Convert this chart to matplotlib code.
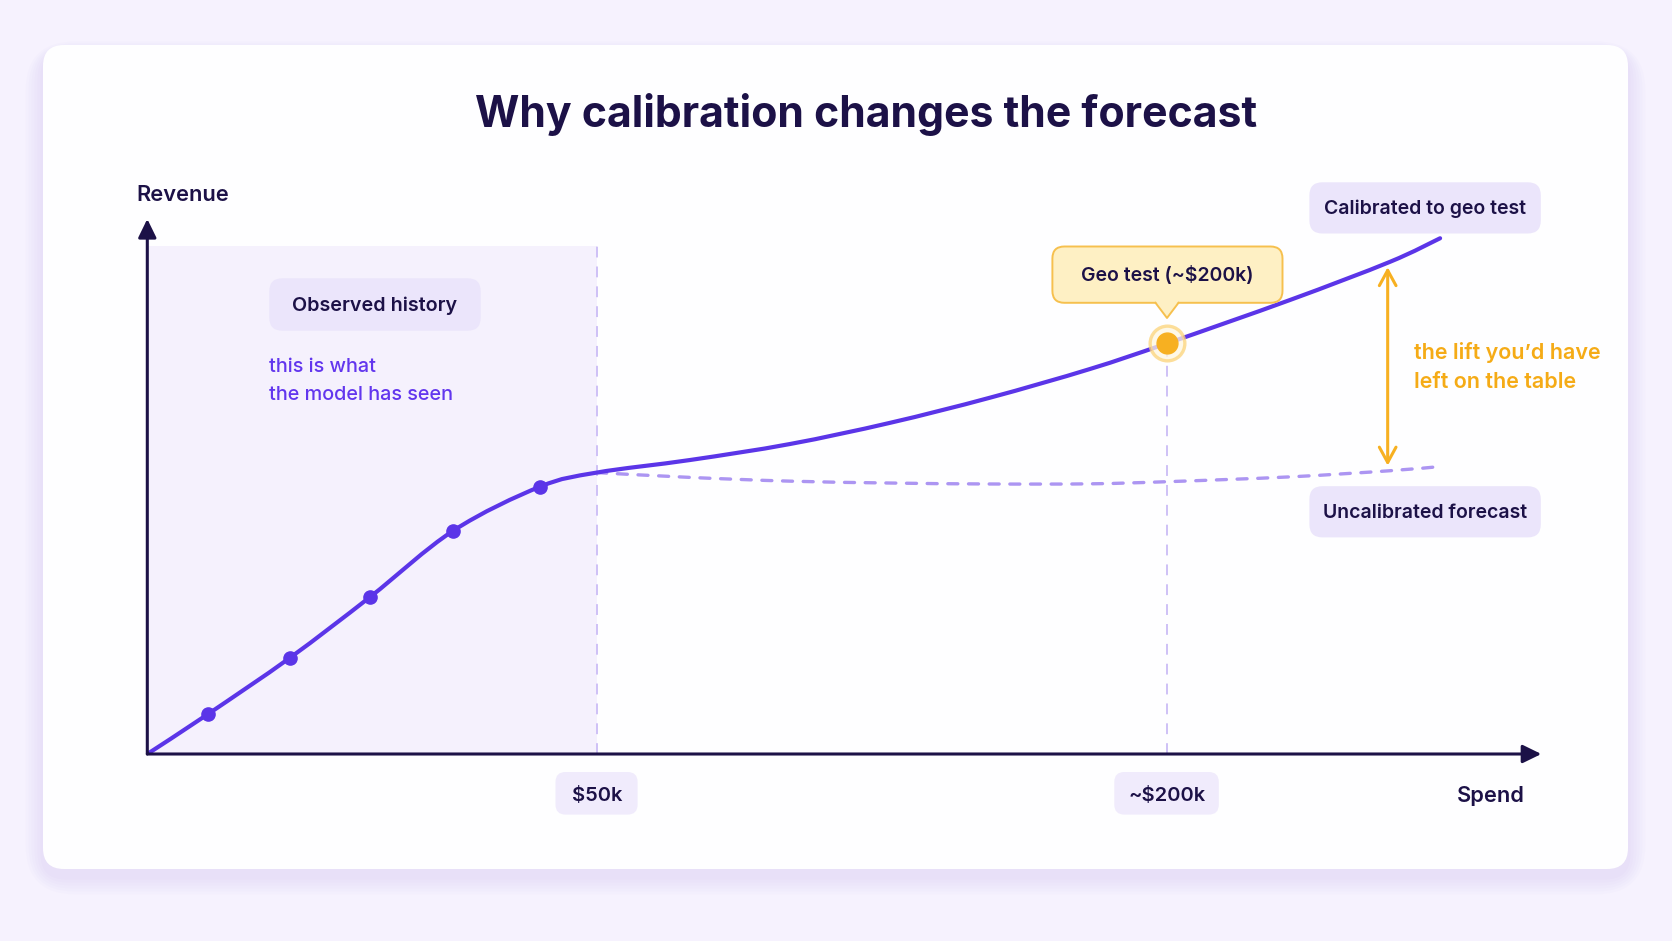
import matplotlib
matplotlib.use("Agg")
import matplotlib.pyplot as plt
from matplotlib.patches import FancyBboxPatch, Rectangle, Polygon, PathPatch
from matplotlib.path import Path
from matplotlib.transforms import Affine2D, blended_transform_factory

# ---- data (chart units: spend index 0-100, revenue index 0-100) ----
hist_x = [0, 4.33, 10.24, 15.98, 21.95, 28.17, 32.24]
hist_y = [0, 7.42, 18.0, 29.35, 41.74, 49.96, 52.6]

obs_x = [4.33, 10.24, 15.98, 21.95, 28.17]
obs_y = [7.42, 18.0, 29.35, 41.74, 49.96]

calib_x = [32.24, 38.93, 46.1, 53.28, 60.45, 67.62, 73.17, 81.97, 89.15, 92.74]
calib_y = [52.6, 54.95, 57.94, 61.9, 66.6, 71.96, 76.77, 84.86, 92.0, 96.4]

uncal_x = [32.24, 38.93, 46.1, 53.28, 60.45, 67.62, 73.17, 81.97, 89.15, 92.6]
uncal_y = [52.6, 51.7, 51.0, 50.65, 50.47, 50.5, 50.9, 51.8, 52.95, 53.7]

geo_x, geo_y = 73.17, 76.77
history_end = 32.24
history_top = 94.95
lift_x, lift_lo, lift_hi = 88.98, 53.9, 91.0

tick_pos = [32.24, 73.17]
tick_labels = ["$50k", "~$200k"]

title = "Why calibration changes the forecast"

# ---- colours ----
BG = "#f6f2fe"
CARD = "#fefeff"
NAVY = "#1c1147"
PURPLE = "#5b35e8"
DASH = "#ac95f2"
GUIDE = "#cbbcf6"
SHADE = "#f5f1fd"
PILL = "#ebe5fb"
TICKPILL = "#f0ebfc"
ORANGE = "#f7b021"
ORANGE_TXT = "#f5ab16"

W, H = 1672, 941
plt.rcParams["font.family"] = ["Inter", "DejaVu Sans"]

fig = plt.figure(figsize=(W / 100, H / 100), dpi=100, facecolor=BG)
# pixel coordinates, origin top-left
pix = Affine2D().scale(1.0 / W, -1.0 / H).translate(0, 1) + fig.transFigure

# card + soft shadow
for i in range(6):
    grow = 4 + i * 5
    fig.patches.append(FancyBboxPatch(
        (43 - grow * 0.6, 45 + 8 - grow * 0.4), 1585 + grow * 1.2, 824 + grow,
        boxstyle=f"round,pad=0,rounding_size={21 + grow}",
        transform=pix, fc="#c9b9f3", ec="none", alpha=0.05, zorder=-10))
fig.patches.append(FancyBboxPatch((43, 45), 1585, 824,
                                  boxstyle="round,pad=0,rounding_size=21",
                                  transform=pix, fc=CARD, ec="none", zorder=-5))

ax = fig.add_axes([147.3 / W, (H - 754) / H, 1394 / W, 535 / H])
ax.set_xlim(0, 100)
ax.set_ylim(0, 100)
ax.set_facecolor("none")
ax.axis("off")

x_pix = blended_transform_factory(ax.transData, pix)


def pill(x0, y0, x1, y1, fc, r=12, ec="none", lw=0, z=3):
    ax.add_patch(FancyBboxPatch((x0, y0), x1 - x0, y1 - y0,
                                boxstyle=f"round,pad=0,rounding_size={r}",
                                transform=pix, fc=fc, ec=ec, lw=lw,
                                zorder=z, clip_on=False))


def smooth_path(xs, ys):
    # Catmull-Rom through the points, drawn as cubic Bezier segments
    pts = list(zip(xs, ys))
    verts = [pts[0]]
    codes = [Path.MOVETO]
    for i in range(len(pts) - 1):
        p0 = pts[i - 1] if i > 0 else pts[i]
        p1, p2 = pts[i], pts[i + 1]
        p3 = pts[i + 2] if i + 2 < len(pts) else pts[i + 1]
        c1 = (p1[0] + (p2[0] - p0[0]) / 6, p1[1] + (p2[1] - p0[1]) / 6)
        c2 = (p2[0] - (p3[0] - p1[0]) / 6, p2[1] - (p3[1] - p1[1]) / 6)
        verts += [c1, c2, p2]
        codes += [Path.CURVE4] * 3
    return Path(verts, codes)


# observed history shading + guides
ax.add_patch(Rectangle((0, 0), history_end, history_top, fc=SHADE, ec="none", zorder=0))
ax.plot([history_end, history_end], [0, history_top], color=GUIDE, lw=1.3,
        ls=(0, (6, 5)), zorder=1)
ax.plot([geo_x, geo_x], [0, geo_y], color=GUIDE, lw=1.3, ls=(0, (6, 5)), zorder=1)

# axes with arrow heads
arrow_kw = dict(arrowstyle="-|>,head_length=0.45,head_width=0.22", color=NAVY,
                lw=2.2, mutation_scale=25, shrinkA=0, shrinkB=0)
ax.annotate("", xy=(0, 100), xytext=(0, 0), arrowprops=arrow_kw, zorder=4)
ax.annotate("", xy=(100, 0), xytext=(0, 0), arrowprops=arrow_kw, zorder=4)

# curves
ax.add_patch(PathPatch(smooth_path(uncal_x, uncal_y), fc="none", ec=DASH,
                       lw=2.4, ls=(0, (3.0, 3.2)), capstyle="round", zorder=2))
ax.add_patch(PathPatch(smooth_path(hist_x + calib_x[1:], hist_y + calib_y[1:]),
                       fc="none", ec=PURPLE, lw=3, capstyle="round",
                       joinstyle="round", zorder=3))
ax.plot(obs_x, obs_y, "o", color=PURPLE, ms=9.5, zorder=4)

# geo test marker
ax.plot([geo_x], [geo_y], "o", ms=25, mfc="#fff6df", mec="#fcd47a", mew=2.4,
        alpha=0.75, zorder=5)
ax.plot([geo_x], [geo_y], "o", ms=15, color=ORANGE, zorder=6)

# lift arrow
ax.annotate("", xy=(lift_x, lift_hi), xytext=(lift_x, lift_lo),
            arrowprops=dict(arrowstyle="<->,head_length=0.55,head_width=0.3",
                            color=ORANGE, lw=2.2, mutation_scale=20,
                            shrinkA=0, shrinkB=0), zorder=4)

# title and axis names
ax.text(866, 114, title, transform=pix, ha="center", va="center",
        fontsize=30.8, fontweight="bold", color=NAVY)
ax.text(136.5, 195, "Revenue", transform=pix, ha="left", va="center",
        fontsize=15.7, fontweight="semibold", color=NAVY)
ax.text(1525, 796.5, "Spend", transform=pix, ha="right", va="center",
        fontsize=15.7, fontweight="semibold", color=NAVY)

# tick pills
for xp, lab, (x0, x1) in zip(tick_pos, tick_labels, [(555.5, 637.6), (1114.3, 1218.8)]):
    pill(x0, 772, x1, 814.6, TICKPILL, r=10)
    ax.text(xp, 796, lab, transform=x_pix, ha="center", va="center",
            fontsize=14.5, fontweight="semibold", color=NAVY, zorder=6)

# observed history labels
pill(269.3, 278.3, 480.7, 330.7, PILL, r=13)
ax.text(375, 306, "Observed history", transform=pix, ha="center", va="center",
        fontsize=14.2, fontweight="semibold", color=NAVY, zorder=6)
ax.text(269.3, 367.5, "this is what", transform=pix, ha="left", va="center",
        fontsize=14.3, fontweight="medium", color="#6236ee", zorder=6)
ax.text(269.3, 395.5, "the model has seen", transform=pix, ha="left", va="center",
        fontsize=14.3, fontweight="medium", color="#6236ee", zorder=6)

# right-side labels
pill(1309.4, 182.3, 1540.8, 233.5, PILL, r=13)
ax.text(1425, 209, "Calibrated to geo test", transform=pix, ha="center",
        va="center", fontsize=14, fontweight="semibold", color=NAVY, zorder=6)
pill(1309.4, 486.2, 1540.8, 537.4, PILL, r=13)
ax.text(1425, 513, "Uncalibrated forecast", transform=pix, ha="center",
        va="center", fontsize=14, fontweight="semibold", color=NAVY, zorder=6)

ax.text(1414, 352.5, "the lift you\u2019d have", transform=pix, ha="left",
        va="center", fontsize=15.5, fontweight="semibold", color=ORANGE_TXT)
ax.text(1414, 382.5, "left on the table", transform=pix, ha="left",
        va="center", fontsize=15.5, fontweight="semibold", color=ORANGE_TXT)

# geo test callout
pill(1052.4, 246.5, 1282.5, 302.8, "#fef0c4", r=12, ec="#f6c04e", lw=1.4, z=5)
ax.add_patch(Polygon([(1155, 300.5), (1179, 300.5), (1167, 318)], closed=True,
                     transform=pix, fc="#fef0c4", ec="none", zorder=6,
                     clip_on=False))
ax.plot([1155.5, 1167, 1178.5], [302.8, 318, 302.8], transform=pix,
        color="#f6c04e", lw=1.4, zorder=6, clip_on=False)
ax.text(1167, 276, "Geo test (~$200k)", transform=pix, ha="center",
        va="center", fontsize=14, fontweight="semibold", color=NAVY, zorder=7)

fig.savefig("out.png", dpi=100, facecolor=BG)
